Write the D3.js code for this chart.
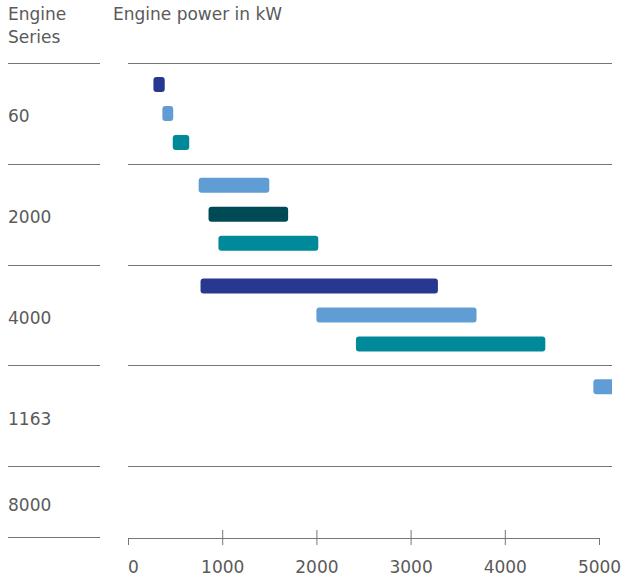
<!DOCTYPE html>
<html>
<head>
    <meta charset="utf-8">
    <script src="https://d3js.org/d3.v7.min.js"></script>
    <style>
        body { margin: 0; background: #fff; }
        text { font-family: "DejaVu Sans", sans-serif; fill: #5a5a5a; }
    </style>
</head>
<body>
    <div id="chart"></div>

    <script>
        // data
        const groups = ["60", "2000", "4000", "1163", "8000"];
        const barGroup = ["60", "60", "60", "2000", "2000", "2000", "4000", "4000", "4000", "1163"];
        const barSlot = [0, 1, 2, 0, 1, 2, 0, 1, 2, 0];
        const barVariant = ["a", "b", "c", "b", "d", "c", "a", "b", "c", "b"];
        const barStart = [270, 365, 475, 750, 855, 960, 770, 2000, 2420, 4940];
        const barEnd = [390, 480, 650, 1500, 1700, 2020, 3290, 3700, 4430, 5400];
        const xTicks = [0, 1000, 2000, 3000, 4000, 5000];

        const bars = barGroup.map((g, i) => ({
            group: g, slot: barSlot[i], variant: barVariant[i],
            start: barStart[i], end: barEnd[i]
        }));

        // sizes
        const width = 636;
        const height = 577;
        const plotLeft = 128, plotRight = 612;
        const axisY = 538;

        const svg = d3.select("#chart")
            .append("svg")
            .attr("width", width)
            .attr("height", height);

        // scales
        const x = d3.scaleLinear().domain([0, 5000]).range([128, 599]);
        const y = d3.scaleBand().domain(groups).range([63, 567]).padding(0);
        const slot = d3.scalePoint().domain([0, 1, 2]).range([-29, 29]);
        const color = d3.scaleOrdinal()
            .domain(["a", "b", "c", "d"])
            .range(["#283891", "#609dd4", "#008a99", "#004a55"]);

        // headers
        svg.append("text").attr("x", 8).attr("y", 20).attr("font-size", 17).text("Engine");
        svg.append("text").attr("x", 8).attr("y", 43).attr("font-size", 17).text("Series");
        svg.append("text").attr("x", 113).attr("y", 20).attr("font-size", 17).text("Engine power in kW");

        // group separator lines
        const lineYs = groups.map(g => y(g)).concat([axisY - 1]);
        svg.append("g").selectAll("line.left")
            .data(lineYs)
            .join("line")
            .attr("x1", 8).attr("x2", 100)
            .attr("y1", d => Math.round(d) + 0.5).attr("y2", d => Math.round(d) + 0.5)
            .attr("stroke", "#767676");
        svg.append("g").selectAll("line.right")
            .data(lineYs.slice(0, -1))
            .join("line")
            .attr("x1", plotLeft).attr("x2", plotRight)
            .attr("y1", d => Math.round(d) + 0.5).attr("y2", d => Math.round(d) + 0.5)
            .attr("stroke", "#767676");

        // group labels
        svg.append("g").selectAll("text")
            .data(groups)
            .join("text")
            .attr("x", 8)
            .attr("y", g => (y(g) + Math.min(y(g) + y.bandwidth(), axisY)) / 2 + 9)
            .attr("font-size", 17)
            .text(g => g);

        // bars
        svg.append("clipPath").attr("id", "plotclip")
            .append("rect")
            .attr("x", plotLeft).attr("y", 0)
            .attr("width", plotRight - plotLeft).attr("height", height);

        svg.append("g")
            .attr("clip-path", "url(#plotclip)")
            .selectAll("rect")
            .data(bars)
            .join("rect")
            .attr("x", d => x(d.start))
            .attr("width", d => x(d.end) - x(d.start))
            .attr("y", d => y(d.group) + y.bandwidth() / 2 + slot(d.slot) - 7.5)
            .attr("height", 15)
            .attr("rx", 3)
            .attr("fill", d => color(d.variant));

        // x axis
        const axis = svg.append("g")
            .attr("transform", `translate(0, ${axisY})`)
            .call(d3.axisBottom(x).tickValues(xTicks).tickFormat(d3.format("d"))
                .tickSize(7).tickSizeOuter(7).tickPadding(16));

        axis.select(".domain").attr("stroke", "#767676");
        axis.selectAll(".tick line")
            .attr("stroke", "#767676")
            .attr("y1", d => (d === 0 || d === 5000) ? 0 : -8);
        axis.selectAll(".tick text")
            .attr("font-size", 17)
            .attr("font-family", "DejaVu Sans, sans-serif")
            .attr("fill", "#5a5a5a")
            .attr("dx", d => d === 0 ? 5 : 0);
    </script>
</body>
</html>
